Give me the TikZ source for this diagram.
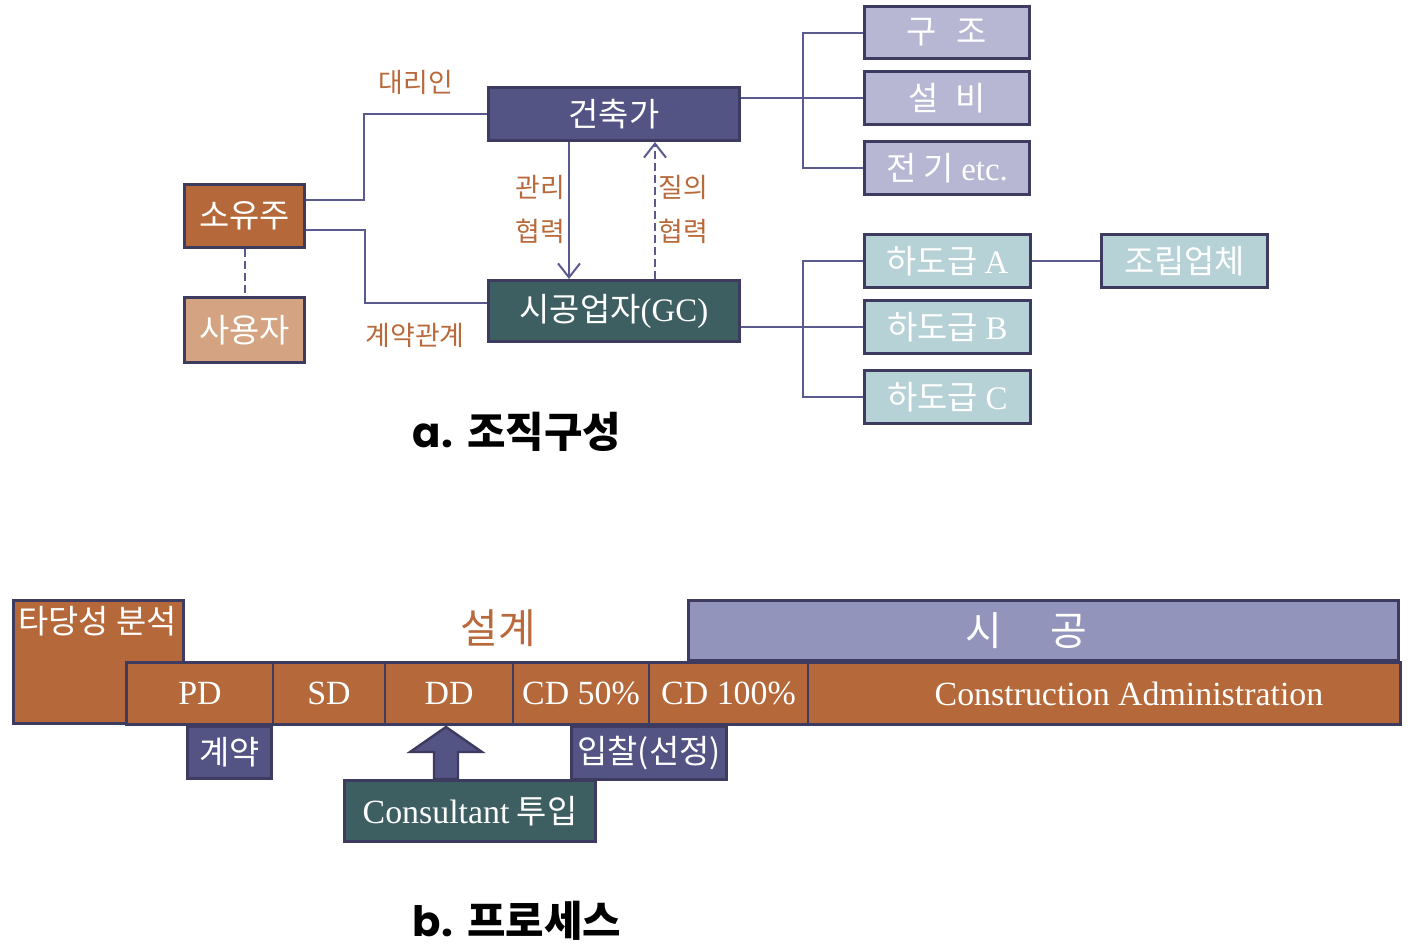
\documentclass[tikz,border=0pt]{standalone}
\usepackage{fontspec}
\setmainfont{Liberation Serif}
\newfontfamily\krfont{Noto Sans CJK KR}
\newfontfamily\headfont{Poppins}
\usetikzlibrary{arrows.meta}
\definecolor{rimcol}{HTML}{3D3B5F}
\definecolor{linkcol}{HTML}{5A5A8E}
\definecolor{rustcol}{HTML}{B5693A}
\definecolor{tancol}{HTML}{D4A381}
\definecolor{navycol}{HTML}{535384}
\definecolor{tealcol}{HTML}{3E5F62}
\definecolor{lilaccol}{HTML}{B7B7D3}
\definecolor{icecol}{HTML}{B6D2D6}
\definecolor{slatecol}{HTML}{9394BB}
\definecolor{labelcol}{HTML}{B86A3C}
\begin{document}
\begin{tikzpicture}[x=0.5bp,y=-0.5bp,>={Straight Barb[length=7bp,width=11bp]},line join=miter,
  box/.style={draw=rimcol,line width=1.5bp,inner sep=0pt,text=white,font=\krfont\fontsize{16.5}{19}\selectfont},
  cell/.style={draw=rimcol,line width=0.6bp,fill=rustcol,inner sep=0pt,text=white,minimum height=30bp,font=\fontsize{17}{20}\selectfont},
  link/.style={draw=linkcol,line width=1bp},
  tag/.style={text=labelcol,font=\krfont\fontsize{13.5}{16}\selectfont},
  heading/.style={font=\fontsize{21}{24}\selectfont},
]
\useasboundingbox (0,0) rectangle (1413,951);
%% a. organisation
\node (node_owner) at (244.5,216) [box,fill=rustcol,minimum width=60bp,minimum height=31.5bp] {소유주};
\node (node_user) at (244.5,330) [box,fill=tancol,minimum width=60bp,minimum height=32.5bp] {사용자};
\node (node_arch) at (614,114) [box,fill=navycol,minimum width=125.5bp,minimum height=26.5bp] {건축가};
\node (node_gc) at (614,311) [box,fill=tealcol,minimum width=125.5bp,minimum height=30.5bp] {시공업자{\rmfamily (GC)}};
\node (node_struct) at (947,32.5) [box,fill=lilaccol,minimum width=82.5bp,minimum height=26bp] {구\hspace{0.6em}조};
\node (node_mep) at (947,98) [box,fill=lilaccol,minimum width=82.5bp,minimum height=26.5bp] {설\hspace{0.5em}비};
\node (node_elec) at (947,168) [box,fill=lilaccol,minimum width=82.5bp,minimum height=26.5bp] {전 기 {\rmfamily etc.}};
\node (node_subA) at (947.5,261) [box,fill=icecol,minimum width=83bp,minimum height=26.5bp] {하도급 {\rmfamily A}};
\node (node_subB) at (947.5,327) [box,fill=icecol,minimum width=83bp,minimum height=26.5bp] {하도급 {\rmfamily B}};
\node (node_subC) at (947.5,397) [box,fill=icecol,minimum width=83bp,minimum height=26.5bp] {하도급 {\rmfamily C}};
\node (node_asm) at (1184.5,261) [box,fill=icecol,minimum width=83bp,minimum height=26.5bp] {조립업체\hspace{0.4em}};
%
\draw [link,dashed,dash pattern=on 4bp off 2bp] (node_owner) -- (node_user);
\draw [link] ([yshift=8bp]node_owner.east) -- ++(29bp,0) |- (node_arch.west);
\draw [link] ([yshift=-7bp]node_owner.east) -- ++(29.5bp,0) |- ([yshift=4bp]node_gc.west);
\draw [link,->] ([xshift=-22.5bp]node_arch.south) -- ([xshift=-22.5bp]node_gc.north);
\draw [link,->,dash pattern=on 4bp off 2bp] ([xshift=20.5bp]node_gc.north) -- ([xshift=20.5bp]node_arch.south);
\draw [link] (node_mep.west -| node_arch.east) -- (node_mep.west);
\draw [link] (node_struct.west) -- ++(-30bp,0) |- (node_elec.west);
\draw [link] (node_subB.west -| node_gc.east) -- (node_subB.west);
\draw [link] (node_subA.west) -- ++(-30bp,0) |- (node_subC.west);
\draw [link] (node_subA.east) -- (node_asm.west);
%
\node (node_agent) at (416,82) [tag] {대리인};
\node (node_contract) at (415,335) [tag] {계약관계};
\node (node_manage) at (540,187) [tag] {관리};
\node (node_coopA) at (540,231) [tag] {협력};
\node (node_query) at (683,187) [tag] {질의};
\node (node_coopB) at (683,231) [tag] {협력};
\node (node_titleA) at (517,432) [heading] {{\headfont\bfseries a.} {\krfont\bfseries 조직구성}};
%% b. process
\node (node_fs) at (98.5,662) [box,fill=rustcol,minimum width=85bp,minimum height=61.5bp,
  label={[anchor=north west,inner sep=0pt,xshift=3bp,yshift=-3.5bp,text=white,font=\krfont\fontsize{16.5}{19}\selectfont]north west:타당성 분석}] {};
\node (node_build) at (1043.5,630.5) [box,fill=slatecol,font=\krfont\fontsize{20}{23}\selectfont,minimum width=355bp,minimum height=30bp] {\hspace*{-17bp}시\hspace{1.2em}공};
\node (node_sign) at (229.5,752.5) [box,fill=navycol,minimum width=42bp,minimum height=26bp] {계약};
\node (node_bid) at (649,753) [box,fill=navycol,minimum width=77.5bp,minimum height=26.5bp] {입찰(선정)};
\node (node_design) at (498,628) [tag,font=\krfont\fontsize{20.5}{23}\selectfont] {설계};
%
\node (node_pd) at (200,693.5) [cell,minimum width=73bp] {PD};
\node (node_sd) at (329,693.5) [cell,minimum width=56bp] {SD};
\node (node_dd) at (449,693.5) [cell,minimum width=64bp] {DD};
\node (node_cdA) at (581,693.5) [cell,minimum width=68bp] {CD 50\%};
\node (node_cdB) at (728.5,693.5) [cell,minimum width=79.5bp] {CD 100\%};
\node (node_ca) at (1104,693.5) [cell,minimum width=296bp] {\hspace*{25bp}Construction Administration};
\draw [rimcol,line width=1.5bp] (node_pd.north west) rectangle (node_ca.south east);
%
\draw [rimcol,line width=1.2bp,fill=navycol] (446,727) -- (482,752) -- (458,752) -- (458,779)
  -- (434,779) -- (434,752) -- (410,752) -- cycle;
\node (node_consult) at (470,811) [box,fill=tealcol,minimum width=125.5bp,minimum height=30.5bp] {{\rmfamily\fontsize{17}{20}\selectfont Consultant} 투입};
\node (node_titleB) at (517,921) [heading] {{\headfont\bfseries b.} {\krfont\bfseries 프로세스}};
%
\end{tikzpicture}
\end{document}
